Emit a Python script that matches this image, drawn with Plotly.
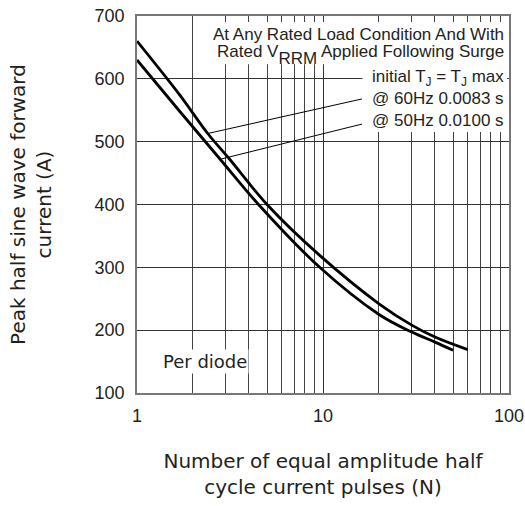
import numpy as np
import plotly.graph_objects as go

# ---- data ----
pulses_60hz = [1, 1.7, 2.4, 3.15, 5, 9.6, 20, 30, 40, 60]
current_60hz = [660, 574, 513, 472, 400, 319, 242, 208, 189, 169]
pulses_50hz = [1, 1.7, 2.8, 4.5, 9.6, 20, 30, 40, 50]
current_50hz = [630, 548, 472, 400, 300, 225, 197, 181, 168]

x_tickvals = [1, 10, 100]
x_ticktext = ["1", "10", "100"]
x_minorvals = [2, 3, 4, 5, 6, 7, 8, 9, 20, 30, 40, 50, 60, 70, 80, 90]
y_tickvals = [100, 200, 300, 400, 500, 600, 700]
y_ticktext = ["100", "200", "300", "400", "500", "600", "700"]

note_lines = [
    "At Any Rated Load Condition And With",
    "Rated V<span style=\"baseline-shift:-7px\">RRM</span> Applied Following Surge",
    "initial T<sub>J</sub> = T<sub>J</sub> max",
    "@ 60Hz 0.0083 s",
    "@ 50Hz 0.0100 s",
]
note_y = [0.952, 0.896, 0.836, 0.780, 0.724]

# leader lines (label end -> curve point)
leader_tail_n = 16.2
leader_60_tail_i = 568
leader_50_tail_i = 528
leader_60_head_n = 2.4
leader_50_head_n = 2.8

INK = "#231f20"
TITLE_FONT = dict(family="DejaVu Sans", size=20, color=INK)


def on_curve(n, xs, ys):
    return float(np.interp(np.log10(n), np.log10(xs), ys))


fig = go.Figure()
fig.add_trace(go.Scatter(x=pulses_60hz, y=current_60hz, mode="lines", name="60Hz",
                         line=dict(color="black", width=2.8, shape="spline", smoothing=1.0)))
fig.add_trace(go.Scatter(x=pulses_50hz, y=current_50hz, mode="lines", name="50Hz",
                         line=dict(color="black", width=2.8, shape="spline", smoothing=1.0)))

fig.add_trace(go.Scatter(
    x=[leader_tail_n, leader_60_head_n],
    y=[leader_60_tail_i, on_curve(leader_60_head_n, pulses_60hz, current_60hz)],
    mode="lines", line=dict(color="black", width=1), hoverinfo="skip"))
fig.add_trace(go.Scatter(
    x=[leader_tail_n, leader_50_head_n],
    y=[leader_50_tail_i, on_curve(leader_50_head_n, pulses_50hz, current_50hz)],
    mode="lines", line=dict(color="black", width=1), hoverinfo="skip"))

# white panels behind the note text (hide grid)
fig.add_shape(type="rect", xref="paper", yref="paper", x0=0.161, x1=0.995, y0=0.872, y1=0.984,
              fillcolor="white", line=dict(width=0), layer="above")
fig.add_shape(type="rect", xref="paper", yref="paper", x0=0.606, x1=0.995, y0=0.692, y1=0.876,
              fillcolor="white", line=dict(width=0), layer="above")

for txt, yy in zip(note_lines, note_y):
    fig.add_annotation(text=txt, xref="paper", yref="paper", x=1, y=yy, xshift=-3,
                       xanchor="right", yanchor="middle", showarrow=False,
                       font=dict(family="Liberation Sans", size=17, color=INK))

fig.add_annotation(text="Per diode", xref="paper", yref="paper", x=0.183, y=0.083,
                   xanchor="center", yanchor="middle", showarrow=False, bgcolor="white",
                   font=dict(family="DejaVu Sans", size=18, color=INK))

fig.update_layout(
    width=525, height=506,
    margin=dict(l=137, r=16, t=16, b=113),
    paper_bgcolor="white", plot_bgcolor="white",
    showlegend=False,
    font=dict(family="Liberation Sans", color=INK),
)
fig.update_xaxes(
    type="log", range=[0, 2], automargin=False,
    tickmode="array", tickvals=x_tickvals, ticktext=x_ticktext,
    tickfont=dict(family="Liberation Sans", size=18, color=INK),
    ticks="", ticklabelstandoff=6,
    showgrid=True, gridcolor="#333", gridwidth=1,
    minor=dict(tickmode="array", tickvals=x_minorvals, showgrid=True, gridcolor="#444", gridwidth=1, ticks=""),
    showline=True, mirror=True, linecolor="#777", linewidth=1.5, zeroline=False,
    title=dict(text="Number of equal amplitude half<br>cycle current pulses (N)", font=TITLE_FONT, standoff=29),
)
fig.update_yaxes(
    range=[100, 700], automargin=False,
    tickmode="array", tickvals=y_tickvals, ticktext=y_ticktext,
    tickfont=dict(family="Liberation Sans", size=18, color=INK),
    ticks="", ticklabelstandoff=7,
    showgrid=True, gridcolor="#333", gridwidth=1,
    showline=True, mirror=True, linecolor="#777", linewidth=1.5, zeroline=False,
    title=dict(text="Peak half sine wave forward<br>current (A)", font=TITLE_FONT, standoff=38),
)

fig.write_html("out.html")
